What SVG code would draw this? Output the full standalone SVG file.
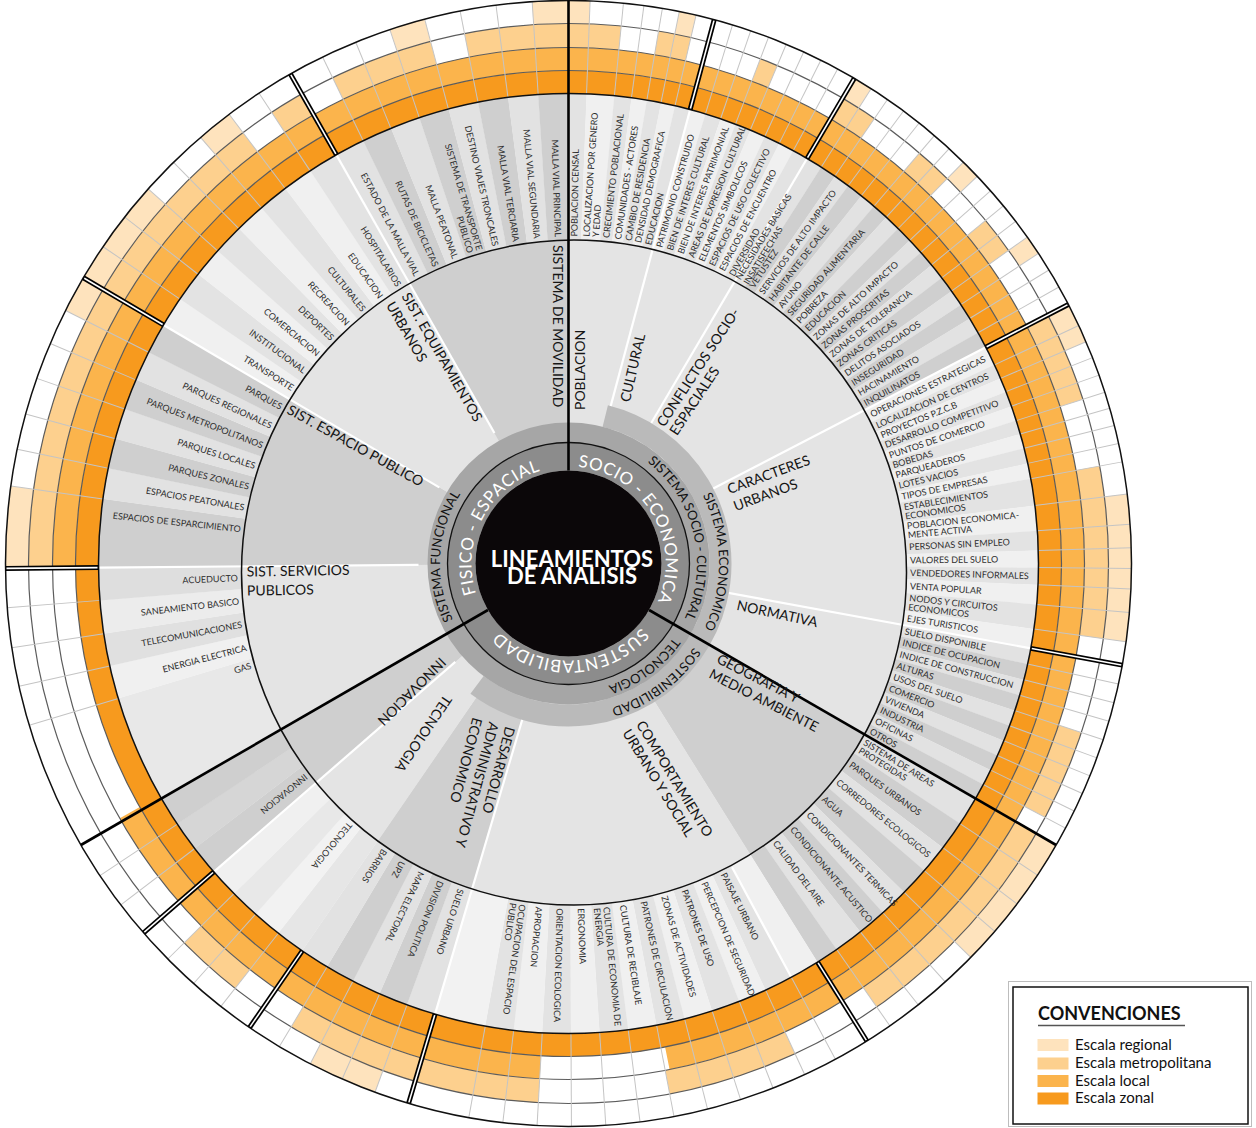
<svg xmlns="http://www.w3.org/2000/svg" width="1256" height="1128" viewBox="0 0 1256 1128">
<style>
text{font-family:Lato,"Open Sans","Liberation Sans",sans-serif}
.it{font-size:9px;fill:#2e2e2e}
.e{text-anchor:end}
.ct{font-size:14px;fill:#151515}
.rt{font-size:13px;fill:#111;text-anchor:middle}
.wt{font-size:17px;fill:#fff;letter-spacing:.6px;text-anchor:middle}
.z{stroke:#f79a1e}.l{stroke:#fbb44c}.m{stroke:#fdd08e}.r{stroke:#fee3bd}
</style>
<defs>
<circle id="pi" r="235" pathLength="360" fill="none" stroke-width="470"/>
<circle id="pc" r="175" pathLength="360" fill="none" stroke-width="350"/>
<circle id="pl" r="504.5" pathLength="360" fill="none" stroke-width="23"/>
<circle id="pm" r="528" pathLength="360" fill="none" stroke-width="24"/>
<circle id="pr" r="551.5" pathLength="360" fill="none" stroke-width="23"/>
<clipPath id="inner"><circle cx="5.5" cy="9" r="332.5"/></clipPath>
<line id="dv" y1="-470" y2="-563" stroke="#c4c4c4" stroke-width="1"/>
<g id="db"><line y1="-470" y2="-563" stroke="#000" stroke-width="5"/><line y1="-471" y2="-562" stroke="#fff" stroke-width="1.6"/></g>
<line id="wl" y1="-150" y2="-470" stroke="#fff" stroke-width="2.2"/>
<path id="a97" d="M0-97A97 97 0 1 1 0 97A97 97 0 1 1 0-97"/>
<path id="a128" d="M0-128.5A128.5 128.5 0 1 1 0 128.5A128.5 128.5 0 1 1 0-128.5"/>
<path id="a150" d="M0-150.5A150.5 150.5 0 1 1 0 150.5A150.5 150.5 0 1 1 0-150.5"/>
</defs>
<rect width="1256" height="1128" fill="#fff"/>
<g transform="translate(568.5 563.5)">
<g id="item-wedges">
<use href="#pi" stroke="#e3e3e3" stroke-dasharray="2.25 999" transform="rotate(-90)"/>
<use href="#pi" stroke="#f0f0f0" stroke-dasharray="3.45 999" transform="rotate(-87.8)"/>
<use href="#pi" stroke="#e3e3e3" stroke-dasharray="2.15 999" transform="rotate(-84.4)"/>
<use href="#pi" stroke="#f0f0f0" stroke-dasharray="1.95 999" transform="rotate(-82.3)"/>
<use href="#pi" stroke="#e3e3e3" stroke-dasharray="1.8 999" transform="rotate(-80.4)"/>
<use href="#pi" stroke="#f0f0f0" stroke-dasharray="1.8 999" transform="rotate(-78.65)"/>
<use href="#pi" stroke="#e3e3e3" stroke-dasharray="1.95 999" transform="rotate(-76.9)"/>
<use href="#pi" stroke="#f0f0f0" stroke-dasharray="1.99 999" transform="rotate(-75)"/>
<use href="#pi" stroke="#e3e3e3" stroke-dasharray="1.99 999" transform="rotate(-73.06)"/>
<use href="#pi" stroke="#f0f0f0" stroke-dasharray="1.99 999" transform="rotate(-71.12)"/>
<use href="#pi" stroke="#e3e3e3" stroke-dasharray="1.99 999" transform="rotate(-69.19)"/>
<use href="#pi" stroke="#f0f0f0" stroke-dasharray="1.99 999" transform="rotate(-67.25)"/>
<use href="#pi" stroke="#e3e3e3" stroke-dasharray="1.99 999" transform="rotate(-65.31)"/>
<use href="#pi" stroke="#f0f0f0" stroke-dasharray="1.99 999" transform="rotate(-63.37)"/>
<use href="#pi" stroke="#e3e3e3" stroke-dasharray="1.99 999" transform="rotate(-61.44)"/>
<use href="#pi" stroke="#e2e2e2" stroke-dasharray="2.06 999" transform="rotate(-59.5)"/>
<use href="#pi" stroke="#cfcfcf" stroke-dasharray="2.06 999" transform="rotate(-57.49)"/>
<use href="#pi" stroke="#e2e2e2" stroke-dasharray="2.06 999" transform="rotate(-55.49)"/>
<use href="#pi" stroke="#cfcfcf" stroke-dasharray="2.06 999" transform="rotate(-53.48)"/>
<use href="#pi" stroke="#e2e2e2" stroke-dasharray="2.06 999" transform="rotate(-51.48)"/>
<use href="#pi" stroke="#cfcfcf" stroke-dasharray="2.06 999" transform="rotate(-49.47)"/>
<use href="#pi" stroke="#e2e2e2" stroke-dasharray="2.06 999" transform="rotate(-47.46)"/>
<use href="#pi" stroke="#cfcfcf" stroke-dasharray="2.06 999" transform="rotate(-45.46)"/>
<use href="#pi" stroke="#e2e2e2" stroke-dasharray="2.06 999" transform="rotate(-43.45)"/>
<use href="#pi" stroke="#cfcfcf" stroke-dasharray="2.06 999" transform="rotate(-41.45)"/>
<use href="#pi" stroke="#e2e2e2" stroke-dasharray="2.06 999" transform="rotate(-39.44)"/>
<use href="#pi" stroke="#cfcfcf" stroke-dasharray="2.06 999" transform="rotate(-37.43)"/>
<use href="#pi" stroke="#e2e2e2" stroke-dasharray="2.06 999" transform="rotate(-35.43)"/>
<use href="#pi" stroke="#cfcfcf" stroke-dasharray="2.06 999" transform="rotate(-33.42)"/>
<use href="#pi" stroke="#e2e2e2" stroke-dasharray="2.06 999" transform="rotate(-31.42)"/>
<use href="#pi" stroke="#cfcfcf" stroke-dasharray="2.06 999" transform="rotate(-29.41)"/>
<use href="#pi" stroke="#f0f0f0" stroke-dasharray="2.45 999" transform="rotate(-27.4)"/>
<use href="#pi" stroke="#e3e3e3" stroke-dasharray="1.85 999" transform="rotate(-25)"/>
<use href="#pi" stroke="#f0f0f0" stroke-dasharray="1.8 999" transform="rotate(-23.2)"/>
<use href="#pi" stroke="#e3e3e3" stroke-dasharray="1.95 999" transform="rotate(-21.45)"/>
<use href="#pi" stroke="#f0f0f0" stroke-dasharray="1.9 999" transform="rotate(-19.55)"/>
<use href="#pi" stroke="#e3e3e3" stroke-dasharray="1.75 999" transform="rotate(-17.7)"/>
<use href="#pi" stroke="#f0f0f0" stroke-dasharray="1.85 999" transform="rotate(-16)"/>
<use href="#pi" stroke="#e3e3e3" stroke-dasharray="1.95 999" transform="rotate(-14.2)"/>
<use href="#pi" stroke="#f0f0f0" stroke-dasharray="1.95 999" transform="rotate(-12.3)"/>
<use href="#pi" stroke="#e3e3e3" stroke-dasharray="3.35 999" transform="rotate(-10.4)"/>
<use href="#pi" stroke="#f0f0f0" stroke-dasharray="3.15 999" transform="rotate(-7.1)"/>
<use href="#pi" stroke="#e3e3e3" stroke-dasharray="2.45 999" transform="rotate(-4)"/>
<use href="#pi" stroke="#f0f0f0" stroke-dasharray="2.15 999" transform="rotate(-1.6)"/>
<use href="#pi" stroke="#e3e3e3" stroke-dasharray="2.15 999" transform="rotate(0.5)"/>
<use href="#pi" stroke="#f0f0f0" stroke-dasharray="2.45 999" transform="rotate(2.6)"/>
<use href="#pi" stroke="#e3e3e3" stroke-dasharray="3.05 999" transform="rotate(5)"/>
<use href="#pi" stroke="#f0f0f0" stroke-dasharray="2.45 999" transform="rotate(8)"/>
<use href="#pi" stroke="#e2e2e2" stroke-dasharray="2.01 999" transform="rotate(10.4)"/>
<use href="#pi" stroke="#cfcfcf" stroke-dasharray="2.01 999" transform="rotate(12.36)"/>
<use href="#pi" stroke="#e2e2e2" stroke-dasharray="2.01 999" transform="rotate(14.32)"/>
<use href="#pi" stroke="#cfcfcf" stroke-dasharray="2.01 999" transform="rotate(16.28)"/>
<use href="#pi" stroke="#e2e2e2" stroke-dasharray="2.01 999" transform="rotate(18.24)"/>
<use href="#pi" stroke="#cfcfcf" stroke-dasharray="2.01 999" transform="rotate(20.2)"/>
<use href="#pi" stroke="#e2e2e2" stroke-dasharray="2.01 999" transform="rotate(22.16)"/>
<use href="#pi" stroke="#cfcfcf" stroke-dasharray="2.01 999" transform="rotate(24.12)"/>
<use href="#pi" stroke="#e2e2e2" stroke-dasharray="2.01 999" transform="rotate(26.08)"/>
<use href="#pi" stroke="#cfcfcf" stroke-dasharray="2.01 999" transform="rotate(28.04)"/>
<use href="#pi" stroke="#e2e2e2" stroke-dasharray="3.65 999" transform="rotate(30)"/>
<use href="#pi" stroke="#cfcfcf" stroke-dasharray="3.65 999" transform="rotate(33.6)"/>
<use href="#pi" stroke="#e2e2e2" stroke-dasharray="3.65 999" transform="rotate(37.2)"/>
<use href="#pi" stroke="#cfcfcf" stroke-dasharray="3.65 999" transform="rotate(40.8)"/>
<use href="#pi" stroke="#e2e2e2" stroke-dasharray="3.65 999" transform="rotate(44.4)"/>
<use href="#pi" stroke="#cfcfcf" stroke-dasharray="3.65 999" transform="rotate(48)"/>
<use href="#pi" stroke="#e2e2e2" stroke-dasharray="3.65 999" transform="rotate(51.6)"/>
<use href="#pi" stroke="#cfcfcf" stroke-dasharray="2.85 999" transform="rotate(55.2)"/>
<use href="#pi" stroke="#f0f0f0" stroke-dasharray="3.75 999" transform="rotate(58)"/>
<use href="#pi" stroke="#e3e3e3" stroke-dasharray="3.55 999" transform="rotate(61.7)"/>
<use href="#pi" stroke="#f0f0f0" stroke-dasharray="3.55 999" transform="rotate(65.2)"/>
<use href="#pi" stroke="#e3e3e3" stroke-dasharray="3.55 999" transform="rotate(68.7)"/>
<use href="#pi" stroke="#f0f0f0" stroke-dasharray="3.55 999" transform="rotate(72.2)"/>
<use href="#pi" stroke="#e3e3e3" stroke-dasharray="3.55 999" transform="rotate(75.7)"/>
<use href="#pi" stroke="#f0f0f0" stroke-dasharray="3.55 999" transform="rotate(79.2)"/>
<use href="#pi" stroke="#e3e3e3" stroke-dasharray="3.55 999" transform="rotate(82.7)"/>
<use href="#pi" stroke="#f0f0f0" stroke-dasharray="3.55 999" transform="rotate(86.2)"/>
<use href="#pi" stroke="#e3e3e3" stroke-dasharray="3.55 999" transform="rotate(89.7)"/>
<use href="#pi" stroke="#f0f0f0" stroke-dasharray="3.55 999" transform="rotate(93.2)"/>
<use href="#pi" stroke="#e3e3e3" stroke-dasharray="3.55 999" transform="rotate(96.7)"/>
<use href="#pi" stroke="#f2f2f2" stroke-dasharray="6.35 999" transform="rotate(100.2)"/>
<use href="#pi" stroke="#e2e2e2" stroke-dasharray="3.65 999" transform="rotate(106.5)"/>
<use href="#pi" stroke="#cfcfcf" stroke-dasharray="3.65 999" transform="rotate(110.1)"/>
<use href="#pi" stroke="#e2e2e2" stroke-dasharray="3.65 999" transform="rotate(113.7)"/>
<use href="#pi" stroke="#cfcfcf" stroke-dasharray="3.65 999" transform="rotate(117.3)"/>
<use href="#pi" stroke="#e2e2e2" stroke-dasharray="3.65 999" transform="rotate(120.9)"/>
<use href="#pi" stroke="#e6e6e6" stroke-dasharray="3.67 999" transform="rotate(124.5)"/>
<use href="#pi" stroke="#f2f2f2" stroke-dasharray="3.67 999" transform="rotate(128.125)"/>
<use href="#pi" stroke="#e8e8e8" stroke-dasharray="3.67 999" transform="rotate(131.75)"/>
<use href="#pi" stroke="#f0f0f0" stroke-dasharray="3.67 999" transform="rotate(135.375)"/>
<use href="#pi" stroke="#cfcfcf" stroke-dasharray="3.72 999" transform="rotate(139)"/>
<use href="#pi" stroke="#d6d6d6" stroke-dasharray="3.72 999" transform="rotate(142.67)"/>
<use href="#pi" stroke="#cfcfcf" stroke-dasharray="3.72 999" transform="rotate(146.33)"/>
<use href="#pi" stroke="#e8e8e8" stroke-dasharray="13.35 999" transform="rotate(150)"/>
<use href="#pi" stroke="#f0f0f0" stroke-dasharray="4.15 999" transform="rotate(163.3)"/>
<use href="#pi" stroke="#e0e0e0" stroke-dasharray="4.05 999" transform="rotate(167.4)"/>
<use href="#pi" stroke="#ececec" stroke-dasharray="4.15 999" transform="rotate(171.4)"/>
<use href="#pi" stroke="#dedede" stroke-dasharray="4.05 999" transform="rotate(175.5)"/>
<use href="#pi" stroke="#cfcfcf" stroke-dasharray="8.45 999" transform="rotate(179.5)"/>
<use href="#pi" stroke="#e2e2e2" stroke-dasharray="3.85 999" transform="rotate(187.9)"/>
<use href="#pi" stroke="#cfcfcf" stroke-dasharray="3.75 999" transform="rotate(191.7)"/>
<use href="#pi" stroke="#e2e2e2" stroke-dasharray="3.85 999" transform="rotate(195.4)"/>
<use href="#pi" stroke="#cfcfcf" stroke-dasharray="3.85 999" transform="rotate(199.2)"/>
<use href="#pi" stroke="#e2e2e2" stroke-dasharray="3.75 999" transform="rotate(203)"/>
<use href="#pi" stroke="#cfcfcf" stroke-dasharray="3.85 999" transform="rotate(206.7)"/>
<use href="#pi" stroke="#f0f0f0" stroke-dasharray="3.79 999" transform="rotate(210.5)"/>
<use href="#pi" stroke="#e3e3e3" stroke-dasharray="3.79 999" transform="rotate(214.24)"/>
<use href="#pi" stroke="#f0f0f0" stroke-dasharray="3.79 999" transform="rotate(217.98)"/>
<use href="#pi" stroke="#e3e3e3" stroke-dasharray="3.79 999" transform="rotate(221.71)"/>
<use href="#pi" stroke="#f0f0f0" stroke-dasharray="3.79 999" transform="rotate(225.45)"/>
<use href="#pi" stroke="#e3e3e3" stroke-dasharray="3.79 999" transform="rotate(229.19)"/>
<use href="#pi" stroke="#f0f0f0" stroke-dasharray="3.79 999" transform="rotate(232.93)"/>
<use href="#pi" stroke="#e3e3e3" stroke-dasharray="3.79 999" transform="rotate(236.66)"/>
<use href="#pi" stroke="#e2e2e2" stroke-dasharray="3.75 999" transform="rotate(240.4)"/>
<use href="#pi" stroke="#cfcfcf" stroke-dasharray="3.75 999" transform="rotate(244.1)"/>
<use href="#pi" stroke="#e2e2e2" stroke-dasharray="3.75 999" transform="rotate(247.8)"/>
<use href="#pi" stroke="#cfcfcf" stroke-dasharray="3.75 999" transform="rotate(251.5)"/>
<use href="#pi" stroke="#e2e2e2" stroke-dasharray="3.75 999" transform="rotate(255.2)"/>
<use href="#pi" stroke="#cfcfcf" stroke-dasharray="3.75 999" transform="rotate(258.9)"/>
<use href="#pi" stroke="#e2e2e2" stroke-dasharray="3.75 999" transform="rotate(262.6)"/>
<use href="#pi" stroke="#cfcfcf" stroke-dasharray="3.75 999" transform="rotate(266.3)"/>
</g>
<g id="category-wedges" clip-path="url(#inner)">
<use href="#pc" stroke="#e4e4e4" stroke-dasharray="120 999" transform="rotate(-90)"/>
<use href="#pc" stroke="#cfcfcf" stroke-dasharray="28.05 999" transform="rotate(30)"/>
<use href="#pc" stroke="#e4e4e4" stroke-dasharray="48.55 999" transform="rotate(58)"/>
<use href="#pc" stroke="#cfcfcf" stroke-dasharray="18.05 999" transform="rotate(106.5)"/>
<use href="#pc" stroke="#e4e4e4" stroke-dasharray="14.55 999" transform="rotate(124.5)"/>
<use href="#pc" stroke="#cfcfcf" stroke-dasharray="11.05 999" transform="rotate(139)"/>
<use href="#pc" stroke="#e4e4e4" stroke-dasharray="29.55 999" transform="rotate(150)"/>
<use href="#pc" stroke="#cfcfcf" stroke-dasharray="31.05 999" transform="rotate(179.5)"/>
<use href="#pc" stroke="#e4e4e4" stroke-dasharray="29.95 999" transform="rotate(210.5)"/>
<use href="#pc" stroke="#cfcfcf" stroke-dasharray="29.6 999" transform="rotate(240.4)"/>
</g>
<g id="white-dividers">
<use href="#wl" transform="rotate(15)"/><use href="#wl" transform="rotate(30.5)"/><use href="#wl" transform="rotate(62.6)"/><use href="#wl" transform="rotate(100.4)"/><use href="#wl" transform="rotate(196.5)"/><use href="#wl" transform="rotate(229)"/><use href="#wl" transform="rotate(269.5)"/><use href="#wl" transform="rotate(300.5)"/><use href="#wl" transform="rotate(330.4)"/>
<line y1="-345" y2="-470" stroke="#fff" stroke-width="2.2" transform="rotate(151.7)"/>
</g>
<circle cx="5.5" cy="9" r="332.5" fill="none" stroke="#111" stroke-width="1.5"/>
<g id="scale-rings">
<circle r="481.5" fill="none" stroke-width="23" class="z"/>
<use href="#pl" class="l" stroke-dasharray="259.2 999" transform="rotate(179.5)"/>
<use href="#pl" class="l" stroke-dasharray="57.2 999" transform="rotate(93.2)"/>
<g class="m">
<use href="#pm" stroke-dasharray="5.6 999" transform="rotate(-90)"/>
<use href="#pm" stroke-dasharray="3.5 999" transform="rotate(-80.4)"/>
<use href="#pm" stroke-dasharray="1.94 999" transform="rotate(-69.19)"/>
<use href="#pm" stroke-dasharray="4.01 999" transform="rotate(-59.5)"/>
<use href="#pm" stroke-dasharray="4.01 999" transform="rotate(-49.47)"/>
<use href="#pm" stroke-dasharray="4.01 999" transform="rotate(-39.44)"/>
<use href="#pm" stroke-dasharray="9.7 999" transform="rotate(-27.4)"/>
<use href="#pm" stroke-dasharray="18.4 999" transform="rotate(-10.4)"/>
<use href="#pm" stroke-dasharray="9.8 999" transform="rotate(18.24)"/>
<use href="#pm" stroke-dasharray="25.2 999" transform="rotate(30)"/>
<use href="#pm" stroke-dasharray="14 999" transform="rotate(65.2)"/>
<use href="#pm" stroke-dasharray="27.7 999" transform="rotate(93.2)"/>
<use href="#pm" stroke-dasharray="7.25 999" transform="rotate(128.125)"/>
<use href="#pm" stroke-dasharray="53.43 999" transform="rotate(179.5)"/>
<use href="#pm" stroke-dasharray="3.74 999" transform="rotate(236.66)"/>
<use href="#pm" stroke-dasharray="11.1 999" transform="rotate(244.1)"/>
<use href="#pm" stroke-dasharray="11.1 999" transform="rotate(258.9)"/>
</g>
<g class="r">
<use href="#pr" stroke-dasharray="2.2 999" transform="rotate(-90)"/>
<use href="#pr" stroke-dasharray="1.75 999" transform="rotate(-78.65)"/>
<use href="#pr" stroke-dasharray="2.01 999" transform="rotate(-59.5)"/>
<use href="#pr" stroke-dasharray="2.01 999" transform="rotate(-45.46)"/>
<use href="#pr" stroke-dasharray="2 999" transform="rotate(-35.43)"/>
<use href="#pr" stroke-dasharray="4.2 999" transform="rotate(-27.4)"/>
<use href="#pr" stroke-dasharray="15.1 999" transform="rotate(-7.1)"/>
<use href="#pr" stroke-dasharray="14.4 999" transform="rotate(30)"/>
<use href="#pr" stroke-dasharray="7.2 999" transform="rotate(110.1)"/>
<use href="#pr" stroke-dasharray="8.4 999" transform="rotate(179.5)"/>
<use href="#pr" stroke-dasharray="15.01 999" transform="rotate(206.7)"/>
<use href="#pr" stroke-dasharray="3.74 999" transform="rotate(229.19)"/>
<use href="#pr" stroke-dasharray="3.7 999" transform="rotate(251.5)"/>
<use href="#pr" stroke-dasharray="3.7 999" transform="rotate(266.3)"/>
</g>
<g fill="none" stroke="#5c5c5c" stroke-width="1.2"><circle r="493"/><circle r="516"/><circle r="540"/></g>
<g id="cell-dividers">
<use href="#dv" transform="rotate(2.2)"/><use href="#dv" transform="rotate(5.6)"/><use href="#dv" transform="rotate(7.7)"/><use href="#dv" transform="rotate(9.6)"/><use href="#dv" transform="rotate(11.35)"/><use href="#dv" transform="rotate(13.1)"/>
<use href="#dv" transform="rotate(16.94)"/><use href="#dv" transform="rotate(18.88)"/><use href="#dv" transform="rotate(20.81)"/><use href="#dv" transform="rotate(22.75)"/><use href="#dv" transform="rotate(24.69)"/><use href="#dv" transform="rotate(26.63)"/><use href="#dv" transform="rotate(28.56)"/>
<use href="#dv" transform="rotate(32.51)"/><use href="#dv" transform="rotate(34.51)"/><use href="#dv" transform="rotate(36.52)"/><use href="#dv" transform="rotate(38.52)"/><use href="#dv" transform="rotate(40.53)"/><use href="#dv" transform="rotate(42.54)"/><use href="#dv" transform="rotate(44.54)"/><use href="#dv" transform="rotate(46.55)"/><use href="#dv" transform="rotate(48.55)"/><use href="#dv" transform="rotate(50.56)"/><use href="#dv" transform="rotate(52.57)"/><use href="#dv" transform="rotate(54.57)"/><use href="#dv" transform="rotate(56.58)"/><use href="#dv" transform="rotate(58.58)"/><use href="#dv" transform="rotate(60.59)"/>
<use href="#dv" transform="rotate(65)"/><use href="#dv" transform="rotate(66.8)"/><use href="#dv" transform="rotate(68.55)"/><use href="#dv" transform="rotate(70.45)"/><use href="#dv" transform="rotate(72.3)"/><use href="#dv" transform="rotate(74)"/><use href="#dv" transform="rotate(75.8)"/><use href="#dv" transform="rotate(77.7)"/><use href="#dv" transform="rotate(79.6)"/><use href="#dv" transform="rotate(82.9)"/><use href="#dv" transform="rotate(86)"/><use href="#dv" transform="rotate(88.4)"/><use href="#dv" transform="rotate(90.5)"/><use href="#dv" transform="rotate(92.6)"/><use href="#dv" transform="rotate(95)"/><use href="#dv" transform="rotate(98)"/>
<use href="#dv" transform="rotate(102.36)"/><use href="#dv" transform="rotate(104.32)"/><use href="#dv" transform="rotate(106.28)"/><use href="#dv" transform="rotate(108.24)"/><use href="#dv" transform="rotate(110.2)"/><use href="#dv" transform="rotate(112.16)"/><use href="#dv" transform="rotate(114.12)"/><use href="#dv" transform="rotate(116.08)"/><use href="#dv" transform="rotate(118.04)"/>
<use href="#dv" transform="rotate(123.6)"/><use href="#dv" transform="rotate(127.2)"/><use href="#dv" transform="rotate(130.8)"/><use href="#dv" transform="rotate(134.4)"/><use href="#dv" transform="rotate(138)"/><use href="#dv" transform="rotate(141.6)"/><use href="#dv" transform="rotate(145.2)"/>
<use href="#dv" transform="rotate(151.7)"/><use href="#dv" transform="rotate(155.2)"/><use href="#dv" transform="rotate(158.7)"/><use href="#dv" transform="rotate(162.2)"/><use href="#dv" transform="rotate(165.7)"/><use href="#dv" transform="rotate(169.2)"/><use href="#dv" transform="rotate(172.7)"/><use href="#dv" transform="rotate(176.2)"/><use href="#dv" transform="rotate(179.7)"/><use href="#dv" transform="rotate(183.2)"/><use href="#dv" transform="rotate(186.7)"/><use href="#dv" transform="rotate(190.2)"/>
<use href="#dv" transform="rotate(200.1)"/><use href="#dv" transform="rotate(203.7)"/><use href="#dv" transform="rotate(207.3)"/><use href="#dv" transform="rotate(210.9)"/>
<use href="#dv" transform="rotate(218.125)"/><use href="#dv" transform="rotate(221.75)"/><use href="#dv" transform="rotate(225.375)"/><use href="#dv" transform="rotate(232.67)"/><use href="#dv" transform="rotate(236.33)"/>
<use href="#dv" transform="rotate(253.3)"/><use href="#dv" transform="rotate(257.4)"/><use href="#dv" transform="rotate(261.4)"/><use href="#dv" transform="rotate(265.5)"/>
<use href="#dv" transform="rotate(277.9)"/><use href="#dv" transform="rotate(281.7)"/><use href="#dv" transform="rotate(285.4)"/><use href="#dv" transform="rotate(289.2)"/><use href="#dv" transform="rotate(293)"/><use href="#dv" transform="rotate(296.7)"/>
<use href="#dv" transform="rotate(304.24)"/><use href="#dv" transform="rotate(307.98)"/><use href="#dv" transform="rotate(311.71)"/><use href="#dv" transform="rotate(315.45)"/><use href="#dv" transform="rotate(319.19)"/><use href="#dv" transform="rotate(322.93)"/><use href="#dv" transform="rotate(326.66)"/>
<use href="#dv" transform="rotate(334.1)"/><use href="#dv" transform="rotate(337.8)"/><use href="#dv" transform="rotate(341.5)"/><use href="#dv" transform="rotate(345.2)"/><use href="#dv" transform="rotate(348.9)"/><use href="#dv" transform="rotate(352.6)"/><use href="#dv" transform="rotate(356.3)"/>
</g>
<g fill="none" stroke="#111" stroke-width="1.5"><circle r="470"/><circle r="563"/></g>
<g id="group-dividers">
<use href="#db" transform="rotate(15)"/><use href="#db" transform="rotate(30.5)"/><use href="#db" transform="rotate(62.6)"/><use href="#db" transform="rotate(100.4)"/><use href="#db" transform="rotate(148)"/><use href="#db" transform="rotate(196.5)"/><use href="#db" transform="rotate(214.5)"/><use href="#db" transform="rotate(229)"/><use href="#db" transform="rotate(269.5)"/><use href="#db" transform="rotate(300.5)"/><use href="#db" transform="rotate(330.4)"/>
</g>
</g>
<g id="system-rings">
<circle r="152" pathLength="360" fill="none" stroke="#bababa" stroke-width="22" stroke-dasharray="203 999" transform="rotate(-76)"/>
<circle r="131" fill="none" stroke="#a6a6a6" stroke-width="20"/>
<circle r="107" fill="none" stroke="#8c8c8c" stroke-width="28"/>
<circle r="121" fill="none" stroke="#111" stroke-width="1.3"/>
<circle r="93" fill="#0b0709"/>
</g>
<g id="sector-lines" stroke="#000" stroke-width="2.6">
<line y1="-93" y2="-563"/><line y1="-93" y2="-563" transform="rotate(120)"/><line y1="-93" y2="-563" transform="rotate(240)"/>
</g>
<g id="ring-labels">
<text class="wt"><textPath href="#a97" startOffset="82.64%">FISICO - ESPACIAL</textPath></text>
<text class="wt"><textPath href="#a97" startOffset="16.53%">SOCIO - ECONOMICA</textPath></text>
<text class="wt"><textPath href="#a97" startOffset="49.58%">SUSTENTABILIDAD</textPath></text>
<text class="rt"><textPath href="#a128" startOffset="75.94%">SISTEMA FUNCIONAL</textPath></text>
<text class="rt"><textPath href="#a128" startOffset="21.25%">SISTEMA SOCIO - CULTURAL</textPath></text>
<text class="rt"><textPath href="#a128" startOffset="39.89%">TECNOLOGIA</textPath></text>
<text class="rt"><textPath href="#a150" startOffset="24.81%">SISTEMA ECONOMICO</textPath></text>
<text class="rt"><textPath href="#a150" startOffset="39.89%">SOSTENIBILIDAD</textPath></text>
</g>
<g id="category-labels" class="ct">
<text class="ct" transform="rotate(90)" x="-318.5" y="10.5" dy=".35em">SISTEMA DE MOVILIDAD</text>
<text class="ct" transform="rotate(59.95)"><tspan x="-315" y="6" dy=".35em">SIST. EQUIPAMIENTOS</tspan><tspan x="-315" y="24" dy=".35em">URBANOS</tspan></text>
<text class="ct" transform="rotate(28.95)" x="-320" y="0" dy=".35em">SIST. ESPACIO PUBLICO</text>
<text class="ct" transform="rotate(-1)"><tspan x="-322" y="2.6" dy=".35em">SIST. SERVICIOS</tspan><tspan x="-322" y="21.6" dy=".35em">PUBLICOS</tspan></text>
<text class="ct" transform="rotate(135)" x="156.7" y="20.3" dy=".35em">INNOVACION</text>
<text class="ct" transform="rotate(124.1)" x="177.7" y="24.8" dy=".35em">TECNOLOGIA</text>
<text class="ct" transform="rotate(105.3)"><tspan x="173" y="13" dy=".35em">DESARROLLO</tspan><tspan x="173" y="30" dy=".35em">ADMINISTRATIVO Y</tspan><tspan x="173" y="47" dy=".35em">ECONOMICO</tspan></text>
<text class="ct" transform="rotate(58.6)"><tspan x="172.5" y="21.6" dy=".35em">COMPORTAMIENTO</tspan><tspan x="172.5" y="37.6" dy=".35em">URBANO Y SOCIAL</tspan></text>
<text class="ct" transform="rotate(27.1)"><tspan x="176" y="15.9" dy=".35em">GEOGRAFIA Y</tspan><tspan x="176" y="32.9" dy=".35em">MEDIO AMBIENTE</tspan></text>
<text class="ct" transform="rotate(12.2)" x="173.4" y="4.9" dy=".35em">NORMATIVA</text>
<text class="ct" transform="rotate(-20.3)"><tspan x="175" y="-14" dy=".35em">CARACTERES</tspan><tspan x="175" y="4" dy=".35em">URBANOS</tspan></text>
<text class="ct" transform="rotate(-56.7)"><tspan x="166" y="0.5" dy=".35em">CONFLICTOS SOCIO-</tspan><tspan x="166" y="16" dy=".35em">ESPACIALES</tspan></text>
<text class="ct" transform="rotate(-77)" x="170.3" y="18.6" dy=".35em">CULTURAL</text>
<text class="ct" transform="rotate(-90)" x="153.5" y="11.5" dy=".35em">POBLACION</text>
</g>
<g id="item-labels" class="it">
<text class="it" transform="rotate(-89) translate(327 0)" dy=".35em">POBLACION CENSAL</text>
<text class="it" transform="rotate(-86.1) translate(327.5 0)"><tspan x="0" dy="-.15em">LOCALIZACION POR GENERO</tspan><tspan x="0" dy="1.05em">Y EDAD</tspan></text>
<text class="it" transform="rotate(-83.4) translate(327.8 0)" dy=".35em">CRECIMIENTO POBLACIONAL</text>
<text class="it" transform="rotate(-81.35) translate(328 0)" dy=".35em">COMUNIDADES - ACTORES</text>
<text class="it" transform="rotate(-79.5) translate(328.2 0)" dy=".35em">CAMBIO DE RESIDENCIA</text>
<text class="it" transform="rotate(-77.8) translate(328.4 0)" dy=".35em">DENSIDAD DEMOGRAFICA</text>
<text class="it" transform="rotate(-75.95) translate(328.6 0)" dy=".35em">EDUCACION</text>
<text class="it" transform="rotate(-74) translate(329 0)" dy=".35em">PATRIMONIO CONSTRUIDO</text>
<text class="it" transform="rotate(-72.1) translate(329.3 0)" dy=".35em">BIEN DE INTERES CULTURAL</text>
<text class="it" transform="rotate(-70.15) translate(329.6 0)" dy=".35em">BIEN DE INTERES PATRIMONIAL</text>
<text class="it" transform="rotate(-68.2) translate(330 0)" dy=".35em">AREAS DE EXPRESION CULTURAL</text>
<text class="it" transform="rotate(-66.3) translate(330.3 0)" dy=".35em">ELEMENTOS SIMBOLICOS</text>
<text class="it" transform="rotate(-64.35) translate(330.6 0)" dy=".35em">ESPACIOS DE USO COLECTIVO</text>
<text class="it" transform="rotate(-62.4) translate(330.8 0)" dy=".35em">ESPACIOS DE ENCUENTRO</text>
<text class="it" transform="rotate(-60.5) translate(331 0)" dy=".35em">DIVERSIDAD</text>
<text class="it" transform="rotate(-58.5) translate(331.2 0)"><tspan x="0" dy="-.15em">NECESIDADES BASICAS</tspan><tspan x="0" dy="1.05em">INSATISFECHAS</tspan></text>
<text class="it" transform="rotate(-56.5) translate(331.6 0)" dy=".35em">VETUSTEZ</text>
<text class="it" transform="rotate(-54.5) translate(332 0)" dy=".35em">SERVICIOS DE ALTO IMPACTO</text>
<text class="it" transform="rotate(-52.5) translate(332.3 0)" dy=".35em">HABITANTE DE CALLE</text>
<text class="it" transform="rotate(-50.5) translate(332.6 0)" dy=".35em">AYUNO</text>
<text class="it" transform="rotate(-48.5) translate(333 0)" dy=".35em">SEGURIDAD ALIMENTARIA</text>
<text class="it" transform="rotate(-46.5) translate(333.3 0)" dy=".35em">POBREZA</text>
<text class="it" transform="rotate(-44.5) translate(333.7 0)" dy=".35em">EDUCACION</text>
<text class="it" transform="rotate(-42.45) translate(334 0)" dy=".35em">ZONAS DE ALTO IMPACTO</text>
<text class="it" transform="rotate(-40.45) translate(334.4 0)" dy=".35em">ZONAS PROSCRITAS</text>
<text class="it" transform="rotate(-38.45) translate(334.8 0)" dy=".35em">ZONAS DE TOLERANCIA</text>
<text class="it" transform="rotate(-36.45) translate(335.2 0)" dy=".35em">ZONAS CRITICAS</text>
<text class="it" transform="rotate(-34.4) translate(335.6 0)" dy=".35em">DELITOS ASOCIADOS</text>
<text class="it" transform="rotate(-32.4) translate(336 0)" dy=".35em">INSEGURIDAD</text>
<text class="it" transform="rotate(-30.4) translate(336.3 0)" dy=".35em">HACINAMIENTO</text>
<text class="it" transform="rotate(-28.4) translate(336.6 0)" dy=".35em">INQUILINATOS</text>
<text class="it" transform="rotate(-26.2) translate(337 0)" dy=".35em">OPERACIONES ESTRATEGICAS</text>
<text class="it" transform="rotate(-24.1) translate(337.4 0)" dy=".35em">LOCALIZACION DE CENTROS</text>
<text class="it" transform="rotate(-22.3) translate(337.8 0)" dy=".35em">PROYECTOS P.Z.C.B</text>
<text class="it" transform="rotate(-20.5) translate(338.1 0)" dy=".35em">DESARROLLO COMPETITIVO</text>
<text class="it" transform="rotate(-18.6) translate(338.5 0)" dy=".35em">PUNTOS DE COMERCIO</text>
<text class="it" transform="rotate(-16.85) translate(338.8 0)" dy=".35em">BOBEDAS</text>
<text class="it" transform="rotate(-15.1) translate(339 0)" dy=".35em">PARQUEADEROS</text>
<text class="it" transform="rotate(-13.25) translate(339.3 0)" dy=".35em">LOTES VACIOS</text>
<text class="it" transform="rotate(-11.35) translate(339.7 0)" dy=".35em">TIPOS DE EMPRESAS</text>
<text class="it" transform="rotate(-8.8) translate(340.1 0)"><tspan x="0" dy="-.15em">ESTABLECIMIENTOS</tspan><tspan x="0" dy="1.05em">ECONOMICOS</tspan></text>
<text class="it" transform="rotate(-5.6) translate(340.6 0)"><tspan x="0" dy="-.15em">POBLACION ECONOMICA-</tspan><tspan x="0" dy="1.05em">MENTE ACTIVA</tspan></text>
<text class="it" transform="rotate(-2.8) translate(341 0)" dy=".35em">PERSONAS SIN EMPLEO</text>
<text class="it" transform="rotate(-0.55) translate(341.5 0)" dy=".35em">VALORES DEL SUELO</text>
<text class="it" transform="rotate(1.55) translate(341.8 0)" dy=".35em">VENDEDORES INFORMALES</text>
<text class="it" transform="rotate(3.8) translate(342.1 0)" dy=".35em">VENTA POPULAR</text>
<text class="it" transform="rotate(6.5) translate(342.6 0)"><tspan x="0" dy="-.15em">NODOS Y CIRCUITOS</tspan><tspan x="0" dy="1.05em">ECONOMICOS</tspan></text>
<text class="it" transform="rotate(9.2) translate(343 0)" dy=".35em">EJES TURISTICOS</text>
<text class="it" transform="rotate(11.4) translate(343.2 0)" dy=".35em">SUELO DISPONIBLE</text>
<text class="it" transform="rotate(13.3) translate(343.4 0)" dy=".35em">INDICE DE OCUPACION</text>
<text class="it" transform="rotate(15.3) translate(343.6 0)" dy=".35em">INDICE DE CONSTRUCCION</text>
<text class="it" transform="rotate(17.25) translate(343.9 0)" dy=".35em">ALTURAS</text>
<text class="it" transform="rotate(19.2) translate(344.1 0)" dy=".35em">USOS DEL SUELO</text>
<text class="it" transform="rotate(21.2) translate(344.3 0)" dy=".35em">COMERCIO</text>
<text class="it" transform="rotate(23.15) translate(344.6 0)" dy=".35em">VIVIENDA</text>
<text class="it" transform="rotate(25.1) translate(344.8 0)" dy=".35em">INDUSTRIA</text>
<text class="it" transform="rotate(27.05) translate(345 0)" dy=".35em">OFICINAS</text>
<text class="it" transform="rotate(29) translate(345.2 0)" dy=".35em">OTROS</text>
<text class="it" transform="rotate(31.8) translate(345.5 0)"><tspan x="0" dy="-.15em">SISTEMA DE AREAS</tspan><tspan x="0" dy="1.05em">PROTEGIDAS</tspan></text>
<text class="it" transform="rotate(35.4) translate(345.8 0)" dy=".35em">PARQUES URBANOS</text>
<text class="it" transform="rotate(39) translate(346 0)" dy=".35em">CORREDORES ECOLOGICOS</text>
<text class="it" transform="rotate(42.6) translate(346.2 0)" dy=".35em">AGUA</text>
<text class="it" transform="rotate(46.2) translate(346.3 0)" dy=".35em">CONDICIONANTES TERMICAS</text>
<text class="it" transform="rotate(49.8) translate(346.4 0)" dy=".35em">CONDICIONANTE ACUSTICO</text>
<text class="it" transform="rotate(53.4) translate(346.4 0)" dy=".35em">CALIDAD DEL AIRE</text>
<text class="it" transform="rotate(63.45) translate(346.5 0)" dy=".35em">PAISAJE URBANO</text>
<text class="it" transform="rotate(66.95) translate(346.4 0)" dy=".35em">PERCEPCION DE SEGURIDAD</text>
<text class="it" transform="rotate(70.45) translate(346.3 0)" dy=".35em">PATRONES DE USO</text>
<text class="it" transform="rotate(73.95) translate(346.2 0)" dy=".35em">ZONAS DE ACTIVIDADES</text>
<text class="it" transform="rotate(77.45) translate(346 0)" dy=".35em">PATRONES DE CIRCULACION</text>
<text class="it" transform="rotate(80.95) translate(345.8 0)" dy=".35em">CULTURA DE RECIBLAJE</text>
<text class="it" transform="rotate(84.45) translate(345.5 0)"><tspan x="0" dy="-.15em">CULTURA DE ECONOMIA DE</tspan><tspan x="0" dy="1.05em">ENERGIA</tspan></text>
<text class="it" transform="rotate(87.95) translate(345.2 0)" dy=".35em">ERGONOMIA</text>
<text class="it" transform="rotate(91.45) translate(344.9 0)" dy=".35em">ORIENTACION ECOLOGICA</text>
<text class="it" transform="rotate(94.95) translate(344.5 0)" dy=".35em">APROPIACION</text>
<text class="it" transform="rotate(98.45) translate(344 0)"><tspan x="0" dy="-.15em">OCUPACION DEL ESPACIO</tspan><tspan x="0" dy="1.05em">PUBLICO</tspan></text>
<text class="it" transform="rotate(108.3) translate(343 0)" dy=".35em">SUELO URBANO</text>
<text class="it" transform="rotate(111.9) translate(342.5 0)" dy=".35em">DIVISION POLITICA</text>
<text class="it" transform="rotate(115.5) translate(342 0)" dy=".35em">MAPA ELECTORAL</text>
<text class="it" transform="rotate(119.1) translate(341.3 0)" dy=".35em">UPZ</text>
<text class="it" transform="rotate(122.7) translate(340.5 0)" dy=".35em">BARRIOS</text>
<text class="it" transform="rotate(130) translate(339.5 0)" dy=".35em">TECNOLOGIA</text>
<text class="it" transform="rotate(141) translate(337.5 0)" dy=".35em">INNOVACION</text>
<text class="it e" transform="rotate(-17.8) translate(-333.5 0)" dy=".35em">GAS</text>
<text class="it e" transform="rotate(-14.65) translate(-333 0)" dy=".35em">ENERGIA ELECTRICA</text>
<text class="it e" transform="rotate(-10.6) translate(-332.2 0)" dy=".35em">TELECOMUNICACIONES</text>
<text class="it e" transform="rotate(-6.55) translate(-331.5 0)" dy=".35em">SANEAMIENTO BASICO</text>
<text class="it e" transform="rotate(-2.5) translate(-331 0)" dy=".35em">ACUEDUCTO</text>
<text class="it e" transform="rotate(6) translate(-329.5 0)" dy=".35em">ESPACIOS DE ESPARCIMIENTO</text>
<text class="it e" transform="rotate(9.8) translate(-329 0)" dy=".35em">ESPACIOS PEATONALES</text>
<text class="it e" transform="rotate(13.55) translate(-328.6 0)" dy=".35em">PARQUES ZONALES</text>
<text class="it e" transform="rotate(17.3) translate(-328.2 0)" dy=".35em">PARQUES LOCALES</text>
<text class="it e" transform="rotate(21.1) translate(-327.7 0)" dy=".35em">PARQUES METROPOLITANOS</text>
<text class="it e" transform="rotate(24.85) translate(-327.2 0)" dy=".35em">PARQUES REGIONALES</text>
<text class="it e" transform="rotate(28.6) translate(-326.9 0)" dy=".35em">PARQUES</text>
<text class="it e" transform="rotate(32.4) translate(-326.6 0)" dy=".35em">TRANSPORTE</text>
<text class="it e" transform="rotate(36.1) translate(-326.3 0)" dy=".35em">INSTITUCIONAL</text>
<text class="it e" transform="rotate(39.85) translate(-326 0)" dy=".35em">COMERCIACION</text>
<text class="it e" transform="rotate(43.6) translate(-325.8 0)" dy=".35em">DEPORTES</text>
<text class="it e" transform="rotate(47.3) translate(-325.7 0)" dy=".35em">RECREACION</text>
<text class="it e" transform="rotate(51.05) translate(-325.6 0)" dy=".35em">CULTURALES</text>
<text class="it e" transform="rotate(54.8) translate(-325.5 0)" dy=".35em">EDUCACION</text>
<text class="it e" transform="rotate(58.55) translate(-325.5 0)" dy=".35em">HOSPITALARIOS</text>
<text class="it e" transform="rotate(62.25) translate(-325.5 0)" dy=".35em">ESTADO DE LA MALLA VIAL</text>
<text class="it e" transform="rotate(65.95) translate(-325.6 0)" dy=".35em">RUTAS DE BICICLETAS</text>
<text class="it e" transform="rotate(69.65) translate(-325.7 0)" dy=".35em">MALLA PEATONAL</text>
<text class="it e" transform="rotate(73.35) translate(-325.8 0)"><tspan x="0" dy="-.15em">SISTEMA DE TRANSPORTE</tspan><tspan x="0" dy="1.05em">PUBLICO</tspan></text>
<text class="it e" transform="rotate(77.05) translate(-325.9 0)" dy=".35em">DESTINO VIAJES TRONCALES</text>
<text class="it e" transform="rotate(80.75) translate(-326.1 0)" dy=".35em">MALLA VIAL TERCIARIA</text>
<text class="it e" transform="rotate(84.45) translate(-326.4 0)" dy=".35em">MALLA VIAL SEGUNDARIA</text>
<text class="it e" transform="rotate(88.15) translate(-326.7 0)" dy=".35em">MALLA VIAL PRINCIPAL</text>
</g>
</g>
<g id="center-title" font-weight="bold" font-size="22" fill="#fff" text-anchor="middle">
<text x="572" y="567">LINEAMIENTOS</text>
<text x="572" y="584">DE ANALISIS</text>
</g>
<g id="legend">
<rect x="1008.5" y="981.5" width="243" height="145" fill="#fff" stroke="#bdbdbd"/>
<rect x="1013" y="987" width="235" height="137" fill="none" stroke="#111" stroke-width="1.5"/>
<text x="1038" y="1020" font-weight="bold" font-size="18" fill="#111">CONVENCIONES</text>
<line x1="1038" y1="1025.5" x2="1185" y2="1025.5" stroke="#555" stroke-width="1.5"/>
<rect x="1037.5" y="1039" width="31" height="12" fill="#fee3bd"/>
<rect x="1037.5" y="1057.5" width="31" height="12" fill="#fdd08e"/>
<rect x="1037.5" y="1075" width="31" height="12" fill="#fbb44c"/>
<rect x="1037.5" y="1092.5" width="31" height="12" fill="#f79a1e"/>
<g font-size="15" fill="#111">
<text x="1075" y="1050">Escala regional</text>
<text x="1075" y="1068">Escala metropolitana</text>
<text x="1075" y="1085.5">Escala local</text>
<text x="1075" y="1103">Escala zonal</text>
</g>
</g>
</svg>
